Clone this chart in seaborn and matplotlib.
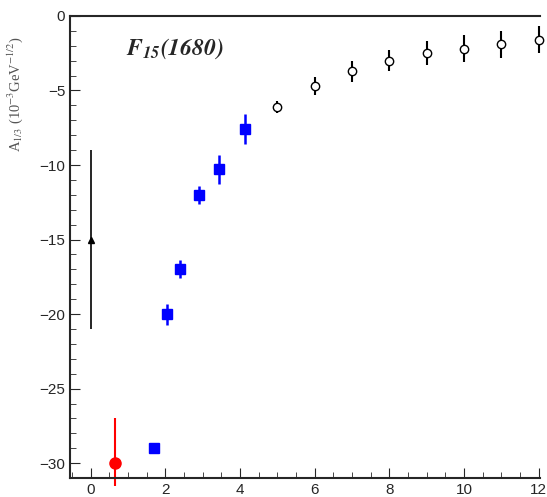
import numpy as np
import matplotlib
matplotlib.use("Agg")
import matplotlib.pyplot as plt
import seaborn as sns
from matplotlib.ticker import MultipleLocator

# data
tri_x, tri_y, tri_err = [0.0], [-15.0], [6.0]
red_x, red_y, red_lo, red_hi = [0.65], [-30.0], [1.5], [3.0]
blue_x = [1.7, 2.05, 2.4, 2.9, 3.45, 4.15]
blue_y = [-29.0, -20.0, -17.0, -12.0, -10.3, -7.6]
blue_err = [0.3, 0.7, 0.6, 0.6, 1.0, 1.0]
open_x = [5, 6, 7, 8, 9, 10, 11, 12]
open_y = [-6.1, -4.7, -3.7, -3.0, -2.5, -2.2, -1.9, -1.6]
open_err = [0.4, 0.6, 0.7, 0.7, 0.8, 0.9, 0.9, 0.9]

sns.set_style("ticks")
plt.rcParams["font.family"] = ["Liberation Sans", "DejaVu Sans"]
plt.rcParams["mathtext.fontset"] = "stix"
fig, ax = plt.subplots(figsize=(5.47, 4.97), dpi=100)
fig.subplots_adjust(left=0.128, right=0.988, top=0.968, bottom=0.038)

ax.errorbar(tri_x, tri_y, yerr=tri_err, fmt="^", color="black", ms=5, lw=1.2)
ax.errorbar(red_x, red_y, yerr=[red_lo, red_hi], fmt="o", color="red", ms=8, lw=1.5,
            clip_on=False)
ax.errorbar(blue_x, blue_y, yerr=blue_err, fmt="s", color="blue", ms=7, lw=1.8)
ax.errorbar(open_x, open_y, yerr=open_err, fmt="o", mfc="white", mec="black",
            color="black", ms=6, lw=1.5, clip_on=False)

ax.set_xlim(-0.55, 12.05)
ax.set_ylim(-31, 0)
ax.xaxis.set_major_locator(MultipleLocator(2))
ax.xaxis.set_minor_locator(MultipleLocator(0.5))
ax.yaxis.set_major_locator(MultipleLocator(5))
ax.yaxis.set_minor_locator(MultipleLocator(1))
ax.tick_params(direction="in", which="both", length=4, labelsize=11)
ax.tick_params(which="major", length=7)
ax.spines["right"].set_visible(False)
for s in ax.spines.values():
    s.set_linewidth(1.5)
ax.set_ylabel(r"A$_{1/3}$ (10$^{-3}$GeV$^{-1/2}$)", fontsize=10.5, color="#555555",
              family="Liberation Serif")
ax.yaxis.set_label_coords(-0.095, 0.83)
ax.text(0.12, 0.93, r"$\mathbfit{F}_{\mathbfit{15}}\mathbfit{(1680)}$", transform=ax.transAxes,
        fontsize=17, ha="left", va="center")

fig.savefig("out.png", dpi=100)
